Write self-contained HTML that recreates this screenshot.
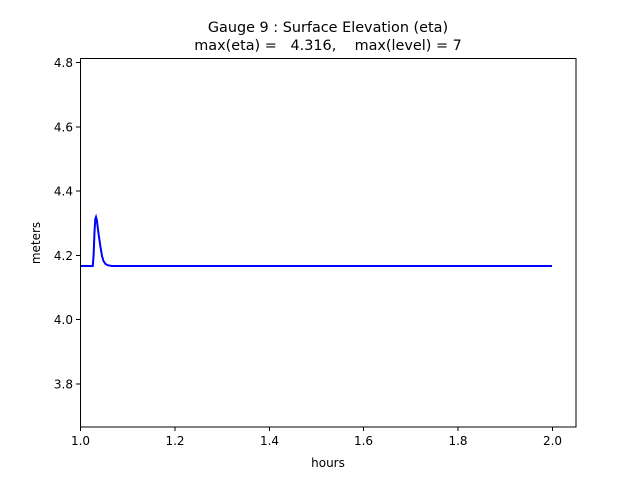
<!DOCTYPE html>
<html><head><style>body{margin:0;background:#fff}svg{display:block}text{font-family:"DejaVu Sans","Liberation Sans",sans-serif;fill:#000}</style></head>
<body>
<svg width="640" height="480" xmlns="http://www.w3.org/2000/svg">
<rect width="640" height="480" fill="#fff"/>
<text x="328" y="32" font-size="14.4" text-anchor="middle">Gauge 9 : Surface Elevation (eta)</text>
<text x="328" y="50" font-size="14.4" text-anchor="middle" xml:space="preserve">max(eta) =   4.316,    max(level) = 7</text>
<polyline fill="none" stroke="#0000ff" stroke-width="2" points="80.5,266 92.8,266 93.6,255 94.5,232 95.3,219 96,217 96.8,220 97.8,228 99,237 100.5,247 102,256 103.5,261 105.5,264 108,265.3 112,266 552,266"/>
<rect x="80.5" y="58.5" width="495.5" height="368.5" fill="none" stroke="#000" stroke-width="1"/>
<g stroke="#000">
<line x1="80.5" y1="427" x2="80.5" y2="431"/><line x1="175" y1="427" x2="175" y2="431"/><line x1="269.5" y1="427" x2="269.5" y2="431"/><line x1="363.5" y1="427" x2="363.5" y2="431"/><line x1="458" y1="427" x2="458" y2="431"/><line x1="552.5" y1="427" x2="552.5" y2="431"/>
<line x1="76" y1="62.5" x2="80.5" y2="62.5"/><line x1="76" y1="127" x2="80.5" y2="127"/><line x1="76" y1="191" x2="80.5" y2="191"/><line x1="76" y1="255.5" x2="80.5" y2="255.5"/><line x1="76" y1="319.5" x2="80.5" y2="319.5"/><line x1="76" y1="384" x2="80.5" y2="384"/>
</g>
<g font-size="12" text-anchor="middle">
<text x="80.5" y="445">1.0</text><text x="175" y="445">1.2</text><text x="269.5" y="445">1.4</text><text x="363.5" y="445">1.6</text><text x="458" y="445">1.8</text><text x="552.5" y="445">2.0</text>
<text x="328" y="467">hours</text>
</g>
<g font-size="12" text-anchor="end">
<text x="73" y="67">4.8</text><text x="73" y="131.5">4.6</text><text x="73" y="195.5">4.4</text><text x="73" y="260">4.2</text><text x="73" y="324">4.0</text><text x="73" y="388.5">3.8</text>
</g>
<text font-size="12" text-anchor="middle" transform="translate(40,243) rotate(-90)">meters</text>
</svg>
</body></html>
